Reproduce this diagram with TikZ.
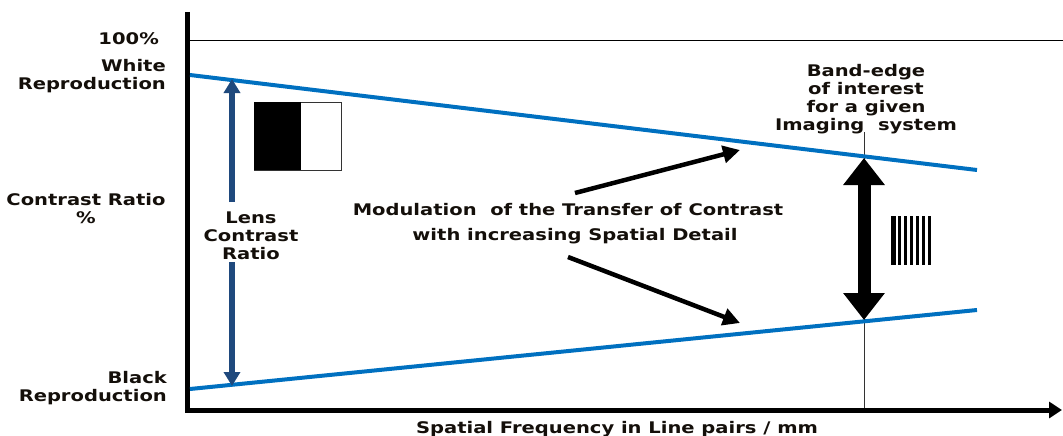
\documentclass[tikz,border=0pt]{standalone}
\usepackage{fontspec}
\setmainfont{DejaVu Sans}[FakeStretch=1.22]
\usetikzlibrary{arrows.meta}
\definecolor{lineblue}{RGB}{0,112,192}
\definecolor{darkblue}{RGB}{31,73,125}
\definecolor{txt}{RGB}{20,15,10}
\begin{document}
\begin{tikzpicture}[x=1pt,y=-1pt,
  lbl/.style={font=\bfseries\fontsize{16}{18}\selectfont, text=txt, align=center, inner sep=0pt},
  curve/.style={draw=lineblue, line width=4pt},
  blarrow/.style={draw=black, line width=4.5pt, -{Triangle[width=17pt,length=17pt]}},
  lensarrow/.style={draw=darkblue, line width=5.5pt, -{Triangle[width=16pt,length=14pt]}}]
\useasboundingbox (0,0) rectangle (1063,436);
% axes
\coordinate (o) at (187,410);
\coordinate (ytop) at (187,12);
\coordinate (xend) at (1062,410);
\draw[line width=1pt] (190,41) -- (1063,41);
\draw[line width=1pt, black!80] (864,132) -- (864,410);
\draw[line width=5pt] (ytop) -- (187,412.5);
\draw[line width=5pt, -{Triangle[width=16pt,length=13pt]}] (185,410) -- (xend);
% curves
\coordinate (u1) at (190,75);
\coordinate (u2) at (977,170);
\coordinate (l1) at (190,389);
\coordinate (l2) at (977,310);
\draw[curve] (u1) -- (u2);
\draw[curve] (l1) -- (l2);
% lens contrast ratio
\node[lbl] (lens) at (251,236) {Lens\\Contrast\\Ratio};
\coordinate (lt) at (232,79);
\coordinate (lb) at (232,386);
\draw[lensarrow] (232,202) -- (lt);
\draw[lensarrow] (232,262) -- (lb);
% black/white box
\node[draw=black!80, line width=1pt, minimum width=87pt, minimum height=68pt, inner sep=0pt] (bw) at (297.5,136) {};
\fill[black] (bw.north west) rectangle (301,169.5);
% band-edge arrow
\coordinate (bt) at (864,158);
\coordinate (bb) at (864,320);
\draw[line width=13pt, {Triangle[width=40pt,length=27pt]}-{Triangle[width=40pt,length=27pt]}] (bt) -- (bb);
% bar pattern
\foreach \x/\w in {891/5, 898/3, 904/3, 910/3, 916/3, 922/3, 928/3}
  \fill[black] (\x,216) rectangle (\x+\w,265);
% modulation arrows
\node[lbl] (mod) at (568,224) {Modulation \ of the Transfer of Contrast\\[7pt]\hspace*{14pt}with increasing Spatial Detail};
\coordinate (m1) at (740,150);
\coordinate (m2) at (740,323);
\draw[blarrow] (575,193) -- (m1);
\draw[blarrow] (568,257) -- (m2);
% labels
\node[lbl, anchor=east] (p100) at (159,39) {100\%};
\node[lbl, align=right, anchor=east] (white) at (166,76) {White\\Reproduction};
\node[lbl] (cr) at (86,209) {Contrast Ratio\\\%};
\node[lbl, align=right, anchor=east] (black) at (167,388) {Black\\Reproduction};
\node[lbl] (band) at (866,99) {Band-edge\\of interest\\for a given\\Imaging \ system};
\node[lbl, anchor=north] (xlab) at (617,421) {Spatial Frequency in Line pairs / mm};
\end{tikzpicture}
\end{document}
